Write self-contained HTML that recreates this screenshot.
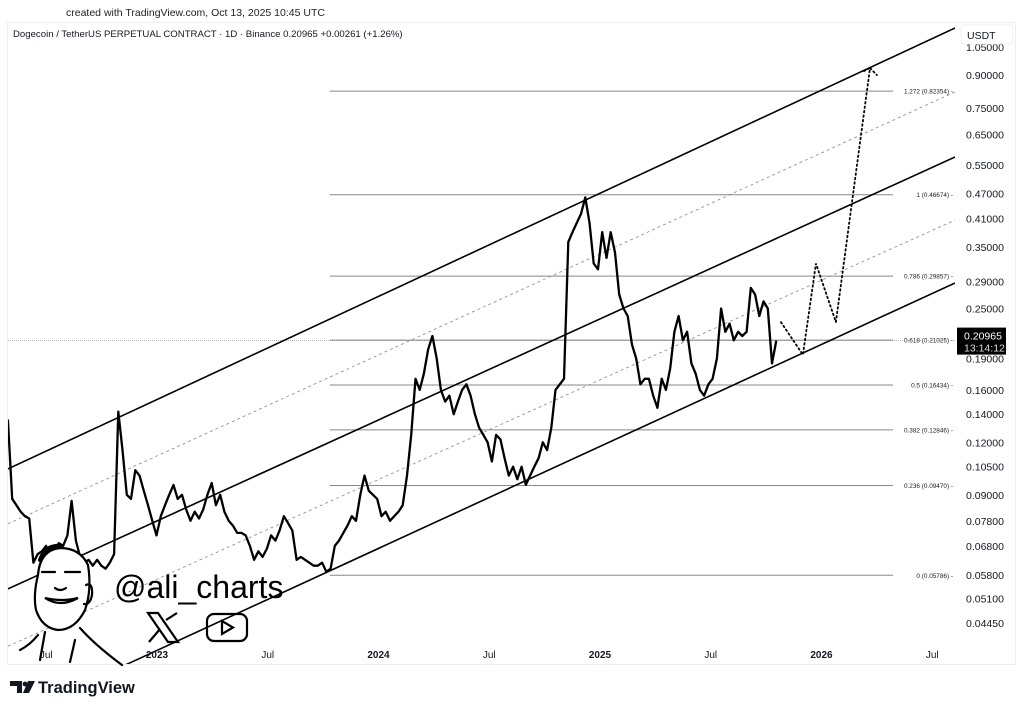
<!DOCTYPE html>
<html><head><meta charset="utf-8">
<style>
html,body{margin:0;padding:0;background:#fff;}
body{width:1024px;height:710px;overflow:hidden;position:relative;font-family:"Liberation Sans",sans-serif;}
svg text{font-family:"Liberation Sans",sans-serif;}
</style></head>
<body>
<svg id="chart" width="1024" height="710" viewBox="0 0 1024 710" xmlns="http://www.w3.org/2000/svg">
<rect x="0" y="0" width="1024" height="710" fill="#fff"/>
<text x="66" y="16" font-size="10.5" fill="#222">created with TradingView.com, Oct 13, 2025 10:45 UTC</text>
<rect x="7.5" y="22.5" width="1008" height="642" fill="none" stroke="#eee"/>
<text x="13" y="37" font-size="9.6" fill="#131722">Dogecoin / TetherUS PERPETUAL CONTRACT · 1D · Binance  0.20965  +0.00261 (+1.26%)</text>
<g id="grid"></g>
<g id="fib"></g>
<g id="channels"></g>
<g id="series"></g>
<g id="proj"></g>
<g id="yaxis"></g>
<g id="xaxis"></g>
<rect x="961" y="25" width="52" height="19" rx="3" fill="#fff" stroke="#f0f0f0"/>
<text x="967" y="39" font-size="10.5" fill="#131722">USDT</text>
<g fill="none" stroke="#000" stroke-width="2.2" stroke-linecap="round">
  <path d="M38 575 Q40 550 60 548 Q80 548 88 565 Q92 590 85 610 Q75 630 58 630 Q42 628 36 610 Q33 595 38 575Z" fill="#fff"/>
  <path d="M42 572 L55 572 M65 572 L80 572" />
  <path d="M45 598 Q60 608 78 598 Q62 602 45 598Z"/>
  <path d="M55 588 Q60 592 66 588"/>
  <path d="M86 585 Q93 582 92 595 Q90 605 84 604"/>
  <path d="M38 635 Q30 645 20 650 M80 628 Q95 645 122 665 M45 632 L40 660 M75 640 L70 662"/>
  <path d="M40 560 Q45 545 60 546" stroke-width="4"/>
</g>
<text x="114" y="598" font-size="32" fill="#000" font-weight="300">@ali_charts</text>
<g stroke="#000" fill="none" stroke-width="2.2">
  <path d="M148 613 L168 642 L178 642 L158 613 Z"/><path d="M149 642 L160 629 M166 620 L177 613"/>
</g>
<g fill="none" stroke="#000" stroke-width="2.2">
  <rect x="207" y="614" width="40" height="27" rx="7"/><path d="M222 621 L222 634 L233 627.5Z"/>
</g>
<g>
  <path d="M10 681 L22 681 L22 693 L17 693 L17 686 L10 686Z" fill="#131722"/>
  <circle cx="25" cy="684" r="2.4" fill="#131722"/>
  <path d="M28 681 L35 681 L29 693 L23 693Z" fill="#131722"/>
  <text x="38" y="693" font-size="16.5" font-weight="bold" fill="#131722">TradingView</text>
</g>
</svg>
<script>
// ---------- data ----------
const startDate = 2022.327;      // decimal year of first weekly point
const weekStep = 7/365.25;
const weeklyPrices = [
0.136,0.088,0.085,0.082,0.080,0.079,0.062,0.065,0.066,0.068,0.064,0.067,0.069,0.068,0.072,0.087,0.070,0.064,0.062,0.063,
0.061,0.063,0.061,0.060,0.062,0.065,0.142,0.115,0.090,0.088,0.103,0.100,0.092,0.085,0.078,0.072,0.080,0.085,0.090,0.095,
0.088,0.090,0.083,0.078,0.082,0.079,0.083,0.090,0.096,0.085,0.090,0.082,0.078,0.076,0.073,0.073,0.072,0.068,0.063,0.066,
0.064,0.067,0.072,0.070,0.074,0.080,0.077,0.074,0.063,0.064,0.063,0.062,0.061,0.061,0.062,0.059,0.060,0.068,0.070,0.073,
0.076,0.080,0.078,0.090,0.100,0.092,0.090,0.088,0.080,0.082,0.078,0.080,0.082,0.085,0.100,0.125,0.170,0.160,0.175,0.200,
0.215,0.190,0.160,0.150,0.155,0.140,0.150,0.160,0.165,0.155,0.140,0.130,0.125,0.120,0.108,0.125,0.122,0.110,0.100,0.105,
0.098,0.105,0.095,0.100,0.105,0.110,0.120,0.115,0.130,0.160,0.165,0.170,0.360,0.380,0.400,0.420,0.460,0.400,0.320,0.310,
0.380,0.330,0.380,0.340,0.270,0.250,0.240,0.205,0.190,0.165,0.170,0.170,0.155,0.145,0.170,0.160,0.180,0.220,0.240,0.210,
0.220,0.185,0.175,0.160,0.155,0.165,0.170,0.190,0.250,0.220,0.230,0.210,0.220,0.215,0.220,0.280,0.270,0.240,0.260,0.250,
0.185,0.2097];
const yTicks = [1.05,0.90,0.75,0.65,0.55,0.47,0.41,0.35,0.29,0.25,0.22,0.19,0.16,0.14,0.12,0.105,0.09,0.078,0.068,0.058,0.051,0.0445];
const xTickDates = [2022.5,2023,2023.5,2024,2024.5,2025,2025.5,2026,2026.5];
const xTickLabels = ["Jul","2023","Jul","2024","Jul","2025","Jul","2026","Jul"];
const fibRatios = ["1.272","1","0.786","0.618","0.5","0.382","0.236","0"];
const fibPrices = [0.82354,0.46674,0.29857,0.21025,0.16434,0.12846,0.09470,0.05786];
const fibStartDate = 2023.78;
const channelStartDates = [2022.327,2022.327,2022.327,2022.327,2022.327];
const channelStartPrices = [0.1037,0.0767,0.0537,0.0392,0.0263];
const channelEndDates = [2026.603,2026.603,2026.603,2026.603,2026.603];
const channelEndPrices = [1.165,0.820,0.574,0.406,0.2876];
const channelDashed = [false,true,false,true,false];
const projDates = [2025.817,2025.916,2025.975,2026.065,2026.219,2026.25];
const projPrices = [0.232,0.194,0.320,0.232,0.935,0.90];
const lastPrice = 0.20965;
const lastPriceLabel = "0.20965";
const countdownLabel = "13:14:12";

// ---------- scales ----------
const plotL=8, plotR=955, plotT=23, plotB=664;
function xs(d){return 157+(d-2023)*221.5;}
function ys(p){return 75-182.3*Math.log(p/0.9);}
const NS="http://www.w3.org/2000/svg";
function mk(tag,parent,attrs){const e=document.createElementNS(NS,tag);for(const k in attrs)e.setAttribute(k,attrs[k]);parent.appendChild(e);return e;}
const svg=document.getElementById('chart');
const defs=mk('defs',svg,{});
const cp=mk('clipPath',defs,{id:'plotclip'});
mk('rect',cp,{x:plotL,y:plotT,width:plotR-plotL,height:plotB-plotT});

// fib levels
const fibG=document.getElementById('fib');
fibPrices.forEach((p,i)=>{
  const y=ys(p);
  const ln=mk('line',fibG,{x1:xs(fibStartDate),x2:893,y1:y,y2:y,stroke:'#888','stroke-width':1});
  
  
  const t=mk('text',fibG,{x:953,y:y+2.5,'font-size':6.4,fill:'#222','text-anchor':'end'});
  t.textContent=fibRatios[i]+' ('+p.toFixed(5)+') -';
  
  
});
// last price line
const lpl=mk('line',fibG,{x1:plotL,x2:plotR,y1:ys(lastPrice),y2:ys(lastPrice),stroke:'#999','stroke-width':0.8,'stroke-dasharray':'1 1'});



// channels
const chG=document.getElementById('channels');
chG.setAttribute('clip-path','url(#plotclip)');
channelStartDates.forEach((d,i)=>{
  const l=mk('line',chG,{x1:xs(d),y1:ys(channelStartPrices[i]),x2:xs(channelEndDates[i]),y2:ys(channelEndPrices[i]),
    stroke:channelDashed[i]?'#888':'#000','stroke-width':channelDashed[i]?0.8:1.6});
  if(channelDashed[i])l.setAttribute('stroke-dasharray','3 3');
  
  
});

// price series
const sG=document.getElementById('series');
sG.setAttribute('clip-path','url(#plotclip)');
let pts=weeklyPrices.map((p,i)=>xs(startDate+i*weekStep).toFixed(1)+','+ys(p).toFixed(1)).join(' ');
const pl=mk('polyline',sG,{points:pts,fill:'none',stroke:'#000','stroke-width':2.3,'stroke-linejoin':'round'});



// projection
const pG=document.getElementById('proj');
const pp=mk('polyline',pG,{points:projDates.map((d,i)=>xs(d)+','+ys(projPrices[i])).join(' '),fill:'none',stroke:'#000','stroke-width':1.8,'stroke-dasharray':'1.5 3','stroke-linecap':'round'});


const ah=mk('polyline',pG,{points:(xs(projDates[4])-6)+','+(ys(projPrices[4])+3)+' '+xs(projDates[4])+','+ys(projPrices[4]),fill:'none',stroke:'#000','stroke-width':1.8,'stroke-dasharray':'1.5 3','stroke-linecap':'round'});



// y axis
const yG=document.getElementById('yaxis');
yTicks.forEach(v=>{
  const y=ys(v);
  if(Math.abs(y-ys(lastPrice))<14) return;
  const t=mk('text',yG,{x:966,y:y+4,'font-size':10.5,fill:'#131722'});
  t.textContent=v.toFixed(5);
  
  
});
const yb=ys(lastPrice);
const box=mk('rect',yG,{x:957,y:yb-13,width:49,height:27,fill:'#000'});


const t1=mk('text',yG,{x:964,y:yb-1,'font-size':10.5,fill:'#fff'});t1.textContent=lastPriceLabel;


const t2=mk('text',yG,{x:964,y:yb+11,'font-size':10.5,fill:'#ddd'});t2.textContent=countdownLabel;



// x axis
const xG=document.getElementById('xaxis');
xTickDates.forEach((d,i)=>{
  const yr=xTickLabels[i]!=="Jul";
  const t=mk('text',xG,{x:xs(d),y:658,'font-size':10,'font-weight':yr?'bold':'normal',fill:'#131722','text-anchor':'middle'});
  t.textContent=xTickLabels[i];
  
  
});
</script>
</body></html>
